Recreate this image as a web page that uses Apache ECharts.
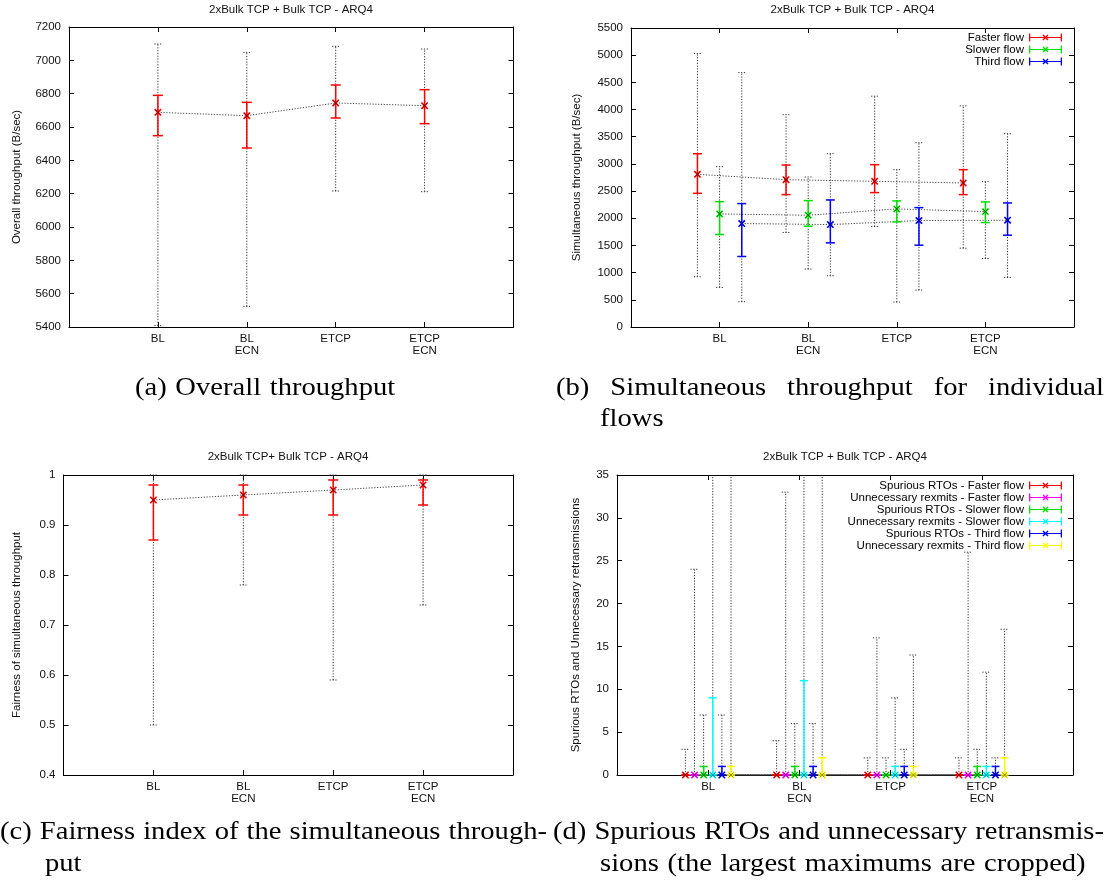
<!DOCTYPE html>
<html>
<head>
<meta charset="utf-8">
<script src="https://cdn.jsdelivr.net/npm/echarts@6/dist/echarts.min.js"></script>
<style>
html,body{margin:0;padding:0;background:#fff;}
#chart{width:1112px;height:883px;}
</style>
</head>
<body>
<div id="chart"></div>
<script>
// ---------------- DATA ----------------
const categories = ['BL', 'BL\nECN', 'ETCP', 'ETCP\nECN'];
const catPos = [1, 2, 3, 4];

// (a) Overall throughput (B/sec)
const overallMean   = [6688, 6668, 6744, 6728];
const overallCiLow  = [6548, 6474, 6654, 6620];
const overallCiHigh = [6790, 6748, 6852, 6824];
const overallMin    = [5408, 5524, 6216, 6212];
const overallMax    = [7098, 7048, 7084, 7068];

// (b) Simultaneous throughput per flow (B/sec)
const fastMean   = [2808, 2710, 2680, 2649];
const fastCiLow  = [2459, 2435, 2472, 2435];
const fastCiHigh = [3187, 2979, 2986, 2894];
const fastMin    = [924, 1737, 1848, 1450];
const fastMax    = [5030, 3905, 4246, 4068];

const slowMean   = [2080, 2056, 2172, 2123];
const slowCiLow  = [1701, 1854, 1933, 1921];
const slowCiHigh = [2306, 2325, 2319, 2300];
const slowMin    = [728, 1065, 459, 1260];
const slowMax    = [2949, 2759, 2894, 2674];

const thirdMean   = [1903, 1884, 1958, 1964];
const thirdCiLow  = [1297, 1548, 1505, 1689];
const thirdCiHigh = [2270, 2337, 2196, 2282];
const thirdMin    = [465, 942, 679, 912];
const thirdMax    = [4680, 3190, 3389, 3555];

// (c) Fairness index
const fairMean   = [0.95, 0.96, 0.97, 0.98];
const fairCiLow  = [0.87, 0.92, 0.92, 0.94];
const fairCiHigh = [0.98, 0.98, 0.99, 0.99];
const fairMin    = [0.50, 0.78, 0.59, 0.74];
const fairMax    = [1.00, 1.00, 1.00, 1.00];

// (d) Spurious RTOs / unnecessary retransmissions
// all means, lower CI bounds and minimums read as 0
const countMean  = [0, 0, 0, 0];
const countCiLow = [0, 0, 0, 0];
const countMin   = [0, 0, 0, 0];
const CROPPED = 40; // maximum lies above the 35 axis limit (cropped in the figure)
const rtoFastCiHigh  = [0, 0, 0, 0];
const rtoFastMax     = [3, 4, 2, 2];
const rexFastCiHigh  = [0, 0, 0, 0];
const rexFastMax     = [24, 33, 16, 26];
const rtoSlowCiHigh  = [1, 1, 0, 1];
const rtoSlowMax     = [7, 6, 2, 3];
const rexSlowCiHigh  = [9, 11, 1, 1];
const rexSlowMax     = [CROPPED, CROPPED, 9, 12];
const rtoThirdCiHigh = [1, 1, 1, 1];
const rtoThirdMax    = [7, 6, 3, 2];
const rexThirdCiHigh = [1, 2, 1, 2];
const rexThirdMax    = [CROPPED, CROPPED, 14, 17];

const flowNamesB = ['Faster flow', 'Slower flow', 'Third flow'];
const seriesNamesD = [
  'Spurious RTOs - Faster flow', 'Unnecessary rexmits - Faster flow',
  'Spurious RTOs - Slower flow', 'Unnecessary rexmits - Slower flow',
  'Spurious RTOs - Third flow', 'Unnecessary rexmits - Third flow'
];
const titleAB = '2xBulk TCP + Bulk TCP - ARQ4';
const titleC = '2xBulk TCP+ Bulk TCP - ARQ4';

// ---------------- STYLE / LAYOUT ----------------
const AX_FONT = '"Liberation Sans", Arial, Helvetica, sans-serif';
const FS = 11.5;
const RED = '#ff0000', GREEN = '#00e000', BLUE = '#0000ff', MAGENTA = '#ff00ff', CYAN = '#00ffff', YELLOW = '#ffff00';
const offsetsB = [-0.25, 0, 0.25];
const offsetsD = [-0.25, -0.15, -0.05, 0.05, 0.15, 0.25];

const grids = [
  {left: 69, top: 27, width: 444.5, height: 300},
  {left: 631, top: 28, width: 443, height: 299},
  {left: 63.5, top: 475, width: 449.5, height: 300},
  {left: 617, top: 475, width: 456, height: 300}
];
const yCfg = [
  {min: 5400, max: 7200, interval: 200, name: 'Overall throughput (B/sec)', gap: 46, fmt: v => String(v)},
  {min: 0, max: 5500, interval: 500, name: 'Simultaneous throughput (B/sec)', gap: 48, fmt: v => String(v)},
  {min: 0.4, max: 1, interval: 0.1, name: 'Fairness of simultaneous throughput', gap: 41, fmt: v => String(+(+v).toFixed(1))},
  {min: 0, max: 35, interval: 5, name: 'Spurious RTOs and Unnecessary retransmissions', gap: 35, fmt: v => String(v)}
];

const xAxes = [], yAxes = [];
grids.forEach((g, i) => {
  xAxes.push({
    gridIndex: i, type: 'value', min: 0, max: 5, position: 'bottom',
    axisLine: {show: true, onZero: false, lineStyle: {color: '#000', width: 1}},
    axisTick: {show: true, inside: true, length: 5, customValues: catPos, lineStyle: {color: '#000'}},
    axisLabel: {show: true, customValues: catPos, margin: 6, formatter: v => categories[Math.round(v) - 1],
      fontFamily: AX_FONT, fontSize: FS, color: '#111', lineHeight: 12},
    splitLine: {show: false}
  });
  xAxes.push({
    gridIndex: i, type: 'value', min: 0, max: 5, position: 'top',
    axisLine: {show: true, onZero: false, lineStyle: {color: '#000', width: 1}},
    axisTick: {show: true, inside: true, length: 5, customValues: catPos, lineStyle: {color: '#000'}},
    axisLabel: {show: false}, splitLine: {show: false}
  });
  const c = yCfg[i];
  yAxes.push({
    gridIndex: i, type: 'value', min: c.min, max: c.max, interval: c.interval, position: 'left',
    axisLine: {show: true, onZero: false, lineStyle: {color: '#000', width: 1}},
    axisTick: {show: true, inside: true, length: 5, lineStyle: {color: '#000'}},
    axisLabel: {show: true, margin: 8, formatter: c.fmt, fontFamily: AX_FONT, fontSize: FS, color: '#111'},
    splitLine: {show: false},
    name: c.name, nameLocation: 'middle', nameGap: c.gap, nameRotate: 90,
    nameTextStyle: {fontFamily: AX_FONT, fontSize: FS, color: '#111'}
  });
  yAxes.push({
    gridIndex: i, type: 'value', min: c.min, max: c.max, interval: c.interval, position: 'right',
    axisLine: {show: true, onZero: false, lineStyle: {color: '#000', width: 1}},
    axisTick: {show: true, inside: true, length: 5, lineStyle: {color: '#000'}},
    axisLabel: {show: false}, splitLine: {show: false}
  });
});

function makeRender(color, capCI, capDot, yTop) {
  return function (params, api) {
    const x = api.value(0);
    const m = api.coord([x, api.value(1)]);
    const lo = api.coord([x, api.value(2)]);
    const hi = api.coord([x, api.value(3)]);
    const mn = api.coord([x, api.value(4)]);
    const mx = api.coord([x, api.value(5)]);
    const top = api.coord([x, yTop])[1];
    const px = m[0];
    const dot = {stroke: '#333', lineWidth: 1, lineDash: [1.2, 1.6], fill: null};
    const ci = {stroke: color, lineWidth: 1.5, fill: null};
    const L = (x1, y1, x2, y2, style) => ({type: 'line', shape: {x1, y1, x2, y2}, style});
    const cropped = mx[1] < top - 0.5;
    const maxY = cropped ? top : mx[1];
    const ch = [
      L(px, mn[1], px, maxY, dot),
      L(px - capDot, mn[1], px + capDot, mn[1], dot)
    ];
    if (!cropped) ch.push(L(px - capDot, mx[1], px + capDot, mx[1], dot));
    ch.push(L(px, lo[1], px, hi[1], ci));
    ch.push(L(px - capCI, lo[1], px + capCI, lo[1], ci));
    ch.push(L(px - capCI, hi[1], px + capCI, hi[1], ci));
    const s = 3.2, t = 2.4;
    ch.push(L(px - s, m[1] - s, px + s, m[1] + s, {stroke: color, lineWidth: 1.6}));
    ch.push(L(px - s, m[1] + s, px + s, m[1] - s, {stroke: color, lineWidth: 1.6}));
    ch.push(L(px - t, m[1] - t, px + t, m[1] + t, {stroke: '#000', lineWidth: 1, opacity: 0.45}));
    ch.push(L(px - t, m[1] + t, px + t, m[1] - t, {stroke: '#000', lineWidth: 1, opacity: 0.45}));
    return {type: 'group', children: ch};
  };
}

const series = [];
function addFlow(gi, name, color, offset, mean, lo, hi, mn, mx, capCI, capDot) {
  const xs = catPos.map(p => p + offset);
  series.push({
    type: 'line', xAxisIndex: 2 * gi, yAxisIndex: 2 * gi, z: 1, silent: true,
    data: xs.map((x, i) => [x, mean[i]]), symbol: 'none',
    lineStyle: {color: '#444', width: 1, type: [1.2, 1.6]}
  });
  series.push({
    type: 'custom', name: name, xAxisIndex: 2 * gi, yAxisIndex: 2 * gi, z: 2, clip: false,
    itemStyle: {color: color},
    renderItem: makeRender(color, capCI, capDot, yCfg[gi].max),
    data: xs.map((x, i) => [x, mean[i], lo[i], hi[i], mn[i], mx[i]])
  });
}

addFlow(0, 'Overall', RED, 0, overallMean, overallCiLow, overallCiHigh, overallMin, overallMax, 5, 3.5);
addFlow(1, flowNamesB[0], RED, offsetsB[0], fastMean, fastCiLow, fastCiHigh, fastMin, fastMax, 4.5, 3.5);
addFlow(1, flowNamesB[1], GREEN, offsetsB[1], slowMean, slowCiLow, slowCiHigh, slowMin, slowMax, 4.5, 3.5);
addFlow(1, flowNamesB[2], BLUE, offsetsB[2], thirdMean, thirdCiLow, thirdCiHigh, thirdMin, thirdMax, 4.5, 3.5);
addFlow(2, 'Fairness', RED, 0, fairMean, fairCiLow, fairCiHigh, fairMin, fairMax, 5, 3.5);
const dColors = [RED, MAGENTA, GREEN, CYAN, BLUE, YELLOW];
const dCiHigh = [rtoFastCiHigh, rexFastCiHigh, rtoSlowCiHigh, rexSlowCiHigh, rtoThirdCiHigh, rexThirdCiHigh];
const dMax = [rtoFastMax, rexFastMax, rtoSlowMax, rexSlowMax, rtoThirdMax, rexThirdMax];
seriesNamesD.forEach((n, k) => {
  addFlow(3, n, dColors[k], offsetsD[k], countMean, countCiLow, dCiHigh[k], countMin, dMax[k], 4, 4);
});

const ERR_ICON = 'path://M0 3.4H33V4.6H0Z M0 0H1.3V8H0Z M31.7 0H33V8H31.7Z M13.5 2L14.5 1L16.5 3L18.5 1L19.5 2L17.5 4L19.5 6L18.5 7L16.5 5L14.5 7L13.5 6L15.5 4Z';
const legendBase = {
  orient: 'vertical', align: 'right', right: 50, itemWidth: 33, itemHeight: 8, itemGap: 0, padding: 0,
  icon: ERR_ICON, selectedMode: false,
  textStyle: {fontFamily: AX_FONT, fontSize: FS, color: '#000', lineHeight: 12}
};

// ---------------- TEXT: titles + captions ----------------
const graphic = [];
function addTitle(text, cx, cy) {
  graphic.push({type: 'text', x: cx, y: cy, silent: true,
    style: {text, font: FS + 'px ' + AX_FONT, fill: '#111', textAlign: 'center', align: 'center',
      textVerticalAlign: 'middle', verticalAlign: 'middle'}});
}
addTitle(titleAB, 291, 10);
addTitle(titleAB, 852.5, 10);
addTitle(titleC, 288, 457);
addTitle(titleAB, 845, 457);

const CAP_FONT = '26px "Liberation Serif", "Times New Roman", serif';
const CAP_SX = 1.1;
const CAP_SPACE = 8.6;
const mctx = document.createElement('canvas').getContext('2d');
function captionLine(text, x0, x1, y, justify) {
  const words = text.split(' ');
  mctx.font = CAP_FONT;
  const widths = words.map(w => mctx.measureText(w).width * CAP_SX);
  const total = widths.reduce((a, b) => a + b, 0);
  const gap = justify && words.length > 1 ? (x1 - x0 - total) / (words.length - 1) : CAP_SPACE;
  let x = x0;
  words.forEach((w, i) => {
    graphic.push({type: 'text', x: x, y: y, scaleX: CAP_SX, silent: true,
      style: {text: w, font: CAP_FONT, fill: '#000', textAlign: 'left', align: 'left',
        textVerticalAlign: 'middle', verticalAlign: 'middle'}});
    x += widths[i] + gap;
  });
}
captionLine('(a) Overall throughput', 135, 0, 388, false);
captionLine('(b) Simultaneous throughput for individual', 556, 1104, 388, true);
captionLine('flows', 600, 0, 419, false);
captionLine('(c) Fairness index of the simultaneous through-', 0, 547, 832, true);
captionLine('put', 45, 0, 864, false);
captionLine('(d) Spurious RTOs and unnecessary retransmis-', 553, 1104, 832, true);
captionLine('sions (the largest maximums are cropped)', 600, 0, 864, false);

const chart = echarts.init(document.getElementById('chart'), null, {renderer: 'canvas'});
chart.setOption({
  animation: false,
  backgroundColor: '#fff',
  grid: grids.map(g => Object.assign({containLabel: false}, g)),
  xAxis: xAxes,
  yAxis: yAxes,
  legend: [
    Object.assign({}, legendBase, {data: flowNamesB, top: 31.5}),
    Object.assign({}, legendBase, {data: seriesNamesD, top: 479.5})
  ],
  series: series,
  graphic: graphic
});
</script>
</body>
</html>
